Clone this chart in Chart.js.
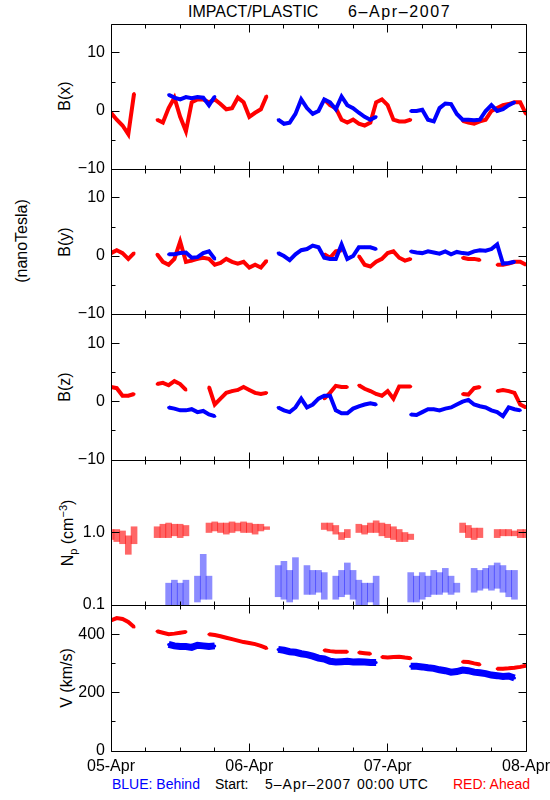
<!DOCTYPE html>
<html>
<head>
<meta charset="utf-8">
<script src="https://cdn.jsdelivr.net/npm/chart.js@4.4.0/dist/chart.umd.min.js"></script>
<style>
  body { margin: 0; background: #fff; }
  #page { position: relative; width: 550px; height: 800px; overflow: hidden;
          font-family: "Liberation Sans", Arial, sans-serif; font-size: 16px; color: #000; }
  canvas { position: absolute; left: 0; }
  .txt { position: absolute; white-space: pre; line-height: 1; }
  .foot { font-size: 14px; top: 777px; }
  .ylab { position: absolute; white-space: pre; line-height: 1;
          transform: translate(-50%, -50%) rotate(-90deg); }
  sub, sup { font-size: 11px; line-height: 0; }
</style>
</head>
<body>
<div id="page">
  <div class="txt" style="left:188px; top:4px">IMPACT/PLASTIC</div>
  <div class="txt" style="left:348px; top:4px; letter-spacing:1.6px">6&ndash;Apr&ndash;2007</div>
  <div class="ylab" style="left:22px; top:241px">(nanoTesla)</div>
  <div class="ylab" style="left:65px; top:96px">B(x)</div>
  <div class="ylab" style="left:65px; top:242px">B(y)</div>
  <div class="ylab" style="left:65px; top:387px">B(z)</div>
  <div class="ylab" style="left:68px; top:533px">N<sub>p</sub> (cm<sup>&minus;3</sup>)</div>
  <div class="ylab" style="left:67px; top:678px">V (km/s)</div>
  <div class="txt foot" style="left:112px; color:#0000ff">BLUE: Behind</div>
  <div class="txt foot" style="left:215px">Start:</div>
  <div class="txt foot" style="left:265px; letter-spacing:1px">5&ndash;Apr&ndash;2007</div>
  <div class="txt foot" style="left:357px; letter-spacing:0.5px">00:00</div>
  <div class="txt foot" style="left:399px">UTC</div>
  <div class="txt foot" style="left:453px; color:#ff0000">RED: Ahead</div>
</div>
<script>
// hourly samples, 05-Apr 00:00 UTC .. 08-Apr 00:00 UTC
var hours = [];
for (var h = 0; h <= 72; h++) hours.push(h);

var dayLabels = ['05-Apr', '06-Apr', '07-Apr', '08-Apr'];
var xTickHours = [0, 6, 12, 18, 24, 30, 36, 42, 48, 54, 60, 66, 72];

var bMajor = [-10, 0, 10];
var bMinor = [-5, 5];
var npMajor = [0.1, 1];
var npTickText = ['0.1', '1.0'];
var vMajor = [0, 200, 400];
var vMinor = [100, 300];

// B(x) nT
var bxAhead = [
  -0.3, -1.5, -2.5, -4.0, 3.0, null, null, null, -1.5, -2.0, 0.5, 2.3,
  -1.0, -3.5, 1.5, 2.0, 2.0, 1.5, 2.0, 1.2, 0.3, 0.5, 2.3, 1.5,
  -1.0, -0.3, 0.3, 2.6, null, null, null, null, null, null, null, null,
  null, 2.0, 1.0, 0.5, -1.5, -2.0, -1.5, -2.2, -2.5, -2.0, 1.5, 2.0,
  1.0, -1.5, -1.8, -1.8, -1.5, null, null, null, null, null, null, null,
  null, -1.7, -2.0, -2.2, -1.8, -1.5, 0.0, 0.5, 1.0, 1.2, 1.5, 1.5,
  -0.5
];
var bxBehind = [
  null, null, null, null, null, null, null, null, null, null, 2.8, 2.3,
  2.0, 2.4, 2.2, 2.4, 2.3, 1.0, 2.5, null, null, null, null, null,
  null, null, null, null, null, -1.5, -2.2, -2.0, -0.5, 2.0, 0.5, -0.5,
  0.0, 2.0, 1.5, 0.3, 2.5, 1.0, 0.5, -0.3, -1.0, -1.5, -1.0, null,
  null, null, null, null, 0.0, 0.0, 0.2, -1.5, -1.8, 0.5, 1.3, 1.2,
  -0.5, -1.5, -1.5, -1.6, -1.5, 0.0, 1.0, 0.0, 0.3, 1.0, 1.5, null,
  null
];

// B(y) nT
var byAhead = [
  0.5, 1.0, 0.5, -0.5, 0.5, null, null, null, 0.3, -1.0, -1.5, -0.5,
  2.5, -1.0, -0.8, -0.5, -0.3, -0.5, -1.5, -1.2, -0.5, -1.0, -1.3, -1.0,
  -2.0, -1.5, -2.0, -0.8, null, null, null, null, null, null, null, null,
  null, 0.3, -0.3, 0.8, 1.0, null, null, 0.0, -1.5, -1.8, -1.0, -0.5,
  0.5, 0.8, -0.3, -0.8, -0.5, null, null, null, null, null, null, null,
  null, -0.3, -0.5, -0.5, -0.7, null, null, -1.5, -1.5, -1.3, -1.0, -1.0,
  -1.5
];
var byBehind = [
  null, null, null, null, null, null, null, null, null, null, 0.3, 0.3,
  0.5, 0.6, -0.3, -0.2, 0.5, 0.8, -0.5, null, null, null, null, null,
  null, null, null, null, null, 0.5, 0.0, -0.7, 0.3, 1.0, 1.2, 1.8,
  1.5, -0.3, -0.5, -0.5, 2.0, -0.5, 0.0, 1.5, 1.5, 1.5, 1.2, null,
  null, null, null, null, 0.8, 0.6, 0.5, 0.8, 0.6, 0.4, 0.8, 0.3,
  0.7, 0.5, 0.4, 0.8, 1.0, 0.9, 1.2, 2.0, -1.3, -1.2, -1.0, null,
  null
];

// B(z) nT
var bzAhead = [
  2.5, 2.3, 1.0, 1.0, 1.3, null, null, null, 3.0, 3.2, 2.8, 3.5,
  3.0, 2.0, null, null, null, 2.5, -0.5, 0.5, 1.5, 1.8, 2.0, 2.5,
  2.0, 1.5, 1.3, 1.5, null, null, null, null, null, null, null, null,
  null, 0.5, 1.5, 2.7, 2.5, 2.5, null, 2.8, 2.2, 1.8, 1.3, 1.0,
  1.8, 0.5, 2.6, 2.6, 2.6, null, null, null, null, null, null, null,
  null, 1.3, 1.2, 2.3, 2.5, null, null, 1.8, 2.0, 1.8, 1.5, -0.5,
  -1.0
];
var bzBehind = [
  null, null, null, null, null, null, null, null, null, null, -1.0, -1.2,
  -1.5, -1.5, -1.3, -1.8, -1.6, -2.2, -2.5, null, null, null, null, null,
  null, null, null, null, null, -1.0, -1.5, -1.8, -1.0, 0.5, -1.0, -0.5,
  0.5, 1.0, 1.0, -1.5, -2.0, -2.0, -1.2, -0.8, -0.5, -0.3, -0.5, null,
  null, null, null, null, -2.2, -2.3, -1.8, -1.3, -1.3, -1.5, -1.2, -1.0,
  -0.5, 0.0, 0.3, -0.5, -0.8, -1.0, -1.5, -1.8, -2.5, -1.0, -1.3, -1.5,
  null
];

// proton density, spread (low / high) per hour, cm^-3
var npAheadLo = [
  0.8, 0.75, 0.7, 0.5, 0.7, null, null, null, 0.85, 0.85, 0.85, 0.9,
  0.85, 0.9, null, null, null, 1.0, 1.05, 1.0, 0.95, 1.0, 1.05, 1.0,
  1.0, 0.95, 1.05, 1.1, null, null, null, null, null, null, null, null,
  null, 1.1, 1.05, 0.95, 0.8, 0.85, null, 1.0, 0.95, 1.0, 1.0, 0.9,
  0.85, 0.8, 0.75, 0.75, 0.8, null, null, null, null, null, null, null,
  null, 1.0, 0.85, 0.8, 0.85, null, null, 0.85, 0.9, 0.9, 0.9, 0.85,
  0.85
];
var npAheadHi = [
  1.1, 1.1, 1.05, 0.9, 1.2, null, null, null, 1.2, 1.3, 1.35, 1.3,
  1.3, 1.25, null, null, null, 1.35, 1.4, 1.35, 1.35, 1.4, 1.35, 1.4,
  1.35, 1.3, 1.3, 1.2, null, null, null, null, null, null, null, null,
  null, 1.35, 1.35, 1.25, 1.0, 1.1, null, 1.3, 1.25, 1.35, 1.45, 1.35,
  1.3, 1.2, 1.1, 1.0, 0.95, null, null, null, null, null, null, null,
  null, 1.35, 1.25, 1.15, 1.15, null, null, 1.1, 1.1, 1.1, 1.05, 1.1,
  1.1
];
var npBehindLo = [
  null, null, null, null, null, null, null, null, null, null, 0.1, 0.1,
  0.1, 0.1, null, 0.11, 0.12, 0.12, null, null, null, null, null, null,
  null, null, null, null, null, 0.13, 0.12, 0.11, 0.12, null, 0.14, 0.14,
  0.15, 0.12, null, 0.12, 0.13, 0.14, 0.12, 0.1, 0.1, 0.11, 0.1, null,
  null, null, null, null, 0.11, 0.11, 0.12, 0.13, 0.14, 0.14, 0.15, 0.14,
  0.15, null, null, 0.15, 0.16, 0.17, 0.16, 0.17, 0.15, 0.13, 0.12, null,
  null
];
var npBehindHi = [
  null, null, null, null, null, null, null, null, null, null, 0.2, 0.22,
  0.2, 0.22, null, 0.25, 0.5, 0.25, null, null, null, null, null, null,
  null, null, null, null, null, 0.35, 0.4, 0.3, 0.45, null, 0.35, 0.3,
  0.3, 0.28, null, 0.25, 0.3, 0.38, 0.3, 0.22, 0.2, 0.2, 0.25, null,
  null, null, null, null, 0.28, 0.25, 0.28, 0.25, 0.3, 0.28, 0.32, 0.25,
  0.2, null, null, 0.32, 0.3, 0.32, 0.35, 0.38, 0.35, 0.3, 0.3, null,
  null
];

// bulk speed km/s
var vAhead = [
  447, 455, 452, 442, 425, null, null, null, 410, 405, 400, 402,
  405, 408, null, null, null, 400, 397, 393, 388, 383, 378, 373,
  370, 366, 360, 352, null, null, null, null, null, null, null, null,
  null, 345, 342, 340, 340, 340, null, 337, 335, 333, null, 322,
  320, 322, 323, 320, 318, null, null, null, null, null, null, null,
  null, 306, 305, 300, 296, null, null, 282, 282, 283, 285, 288,
  292
];
var vBehind = [
  null, null, null, null, null, null, null, null, null, null, 365, 360,
  358, 358, 355, 362, 360, 358, 360, null, null, null, null, null,
  null, null, null, null, null, 348, 345, 340, 338, 333, 330, 325,
  318, 315, 307, 305, 306, 307, 305, 306, 305, 303, 303, null,
  null, null, null, null, 290, 290, 288, 285, 283, 278, 275, 270,
  272, 277, 275, 270, 268, 265, 260, 258, 255, 257, 250, null,
  null
];

var RED = '#ff0000';
var BLUE = '#0000ff';

Chart.defaults.font.family = '"Liberation Sans", Arial, sans-serif';
Chart.defaults.font.size = 16;
Chart.defaults.color = '#000';

function pts(vals) {
  return hours.map(function(h, i) { return {x: h, y: vals[i]}; });
}

function ranges(lo, hi) {
  var out = [];
  hours.forEach(function(h, i) {
    if (lo[i] !== null) out.push({x: h, y: [lo[i], hi[i]]});
  });
  return out;
}

function lineSet(vals, color, width) {
  return {
    data: pts(vals),
    borderColor: color,
    backgroundColor: color,
    borderWidth: width,
    pointRadius: 1.5,
    pointBorderWidth: 0,
    pointBackgroundColor: color,
    tension: 0,
    spanGaps: false
  };
}

function barSet(lo, hi, color) {
  return {
    data: ranges(lo, hi),
    backgroundColor: color,
    borderWidth: 0,
    barThickness: 6,
    grouped: false
  };
}

// IDL style frame with inward ticks on all four sides
var frameTicks = {
  id: 'frameTicks',
  afterDatasetsDraw: function(chart, args, opts) {
    var ctx = chart.ctx, a = chart.chartArea;
    var xs = chart.scales.x, ys = chart.scales.y;
    var L = Math.floor(a.left) + 0.5, R = Math.floor(a.right) + 0.5;
    var T = Math.floor(a.top) + 0.5, B = Math.floor(a.bottom) + 0.5;
    ctx.save();
    ctx.strokeStyle = '#000';
    ctx.lineWidth = 1;
    ctx.beginPath();
    ctx.rect(L, T, R - L, B - T);
    xTickHours.forEach(function(hh) {
      var px = Math.floor(xs.getPixelForValue(hh)) + 0.5;
      var len = hh % 24 === 0 ? 8 : 4;
      ctx.moveTo(px, T); ctx.lineTo(px, T + len);
      ctx.moveTo(px, B); ctx.lineTo(px, B - len);
    });
    opts.major.forEach(function(v) {
      var py = Math.floor(ys.getPixelForValue(v)) + 0.5;
      ctx.moveTo(L, py); ctx.lineTo(L + 8, py);
      ctx.moveTo(R, py); ctx.lineTo(R - 8, py);
    });
    opts.minor.forEach(function(v) {
      var py = Math.floor(ys.getPixelForValue(v)) + 0.5;
      ctx.moveTo(L, py); ctx.lineTo(L + 4, py);
      ctx.moveTo(R, py); ctx.lineTo(R - 4, py);
    });
    ctx.stroke();
    ctx.restore();
  }
};

function minus(v) {
  return v < 0 ? '\u2212' + Math.abs(v) : String(v);
}

function makePanel(cfg) {
  var page = document.getElementById('page');
  var canvas = document.createElement('canvas');
  var extra = cfg.last ? 30 : 12;
  canvas.width = 550;
  canvas.height = 12 + cfg.height + extra;
  canvas.style.top = (cfg.top - 12) + 'px';
  page.appendChild(canvas);

  var yScale = {
    type: cfg.log ? 'logarithmic' : 'linear',
    min: cfg.min,
    max: cfg.max,
    grid: {display: false, drawTicks: false},
    border: {display: false},
    ticks: {
      padding: 6,
      autoSkip: false,
      callback: function(v) {
        for (var j = 0; j < cfg.major.length; j++) {
          if (Math.abs(cfg.major[j] - v) < 1e-6) {
            return cfg.log ? npTickText[j] : minus(v);
          }
        }
        return '';
      }
    },
    afterFit: function(s) {
      s.width = 111;
      s.paddingTop = 0;
      s.paddingBottom = 0;
    }
  };
  if (cfg.step) yScale.ticks.stepSize = cfg.step;
  if (cfg.log) {
    yScale.afterBuildTicks = function(s) {
      s.ticks = cfg.major.map(function(v) { return {value: v}; });
    };
  }

  var xScale = {
    type: 'linear',
    min: 0,
    max: 72,
    offset: false,
    display: !!cfg.last,
    grid: {display: false, drawTicks: false},
    border: {display: false},
    ticks: {
      stepSize: 24,
      padding: 6,
      maxRotation: 0,
      autoSkip: false,
      callback: function(v) { return dayLabels[Math.round(v / 24)]; }
    }
  };
  if (cfg.last) {
    xScale.afterFit = function(s) {
      s.height = 30;
      s.paddingLeft = 0;
      s.paddingRight = 0;
    };
  }

  new Chart(canvas, {
    type: cfg.type,
    data: {datasets: cfg.datasets},
    plugins: [frameTicks],
    options: {
      responsive: false,
      animation: false,
      devicePixelRatio: 1,
      layout: {
        autoPadding: false,
        padding: {top: 12, bottom: cfg.last ? 0 : 12, left: 0, right: 24}
      },
      plugins: {
        legend: {display: false},
        tooltip: {enabled: false},
        frameTicks: {major: cfg.major, minor: cfg.minor}
      },
      scales: {x: xScale, y: yScale}
    }
  });
}

makePanel({top: 24, height: 145, type: 'line', min: -10, max: 15, step: 5,
  major: bMajor, minor: bMinor,
  datasets: [lineSet(bxBehind, BLUE, 4), lineSet(bxAhead, RED, 4)]});

makePanel({top: 169, height: 145, type: 'line', min: -10, max: 15, step: 5,
  major: bMajor, minor: bMinor,
  datasets: [lineSet(byBehind, BLUE, 4), lineSet(byAhead, RED, 4)]});

makePanel({top: 314, height: 146, type: 'line', min: -10, max: 15, step: 5,
  major: bMajor, minor: bMinor,
  datasets: [lineSet(bzBehind, BLUE, 4), lineSet(bzAhead, RED, 4)]});

makePanel({top: 460, height: 145, type: 'bar', log: true, min: 0.1, max: 10,
  major: npMajor, minor: [],
  datasets: [barSet(npBehindLo, npBehindHi, 'rgba(0,0,255,0.45)'),
             barSet(npAheadLo, npAheadHi, 'rgba(255,0,0,0.6)')]});

makePanel({top: 605, height: 146, type: 'line', min: 0, max: 500, step: 100,
  major: vMajor, minor: vMinor, last: true,
  datasets: [lineSet(vBehind, BLUE, 7), lineSet(vAhead, RED, 4)]});
</script>
</body>
</html>
